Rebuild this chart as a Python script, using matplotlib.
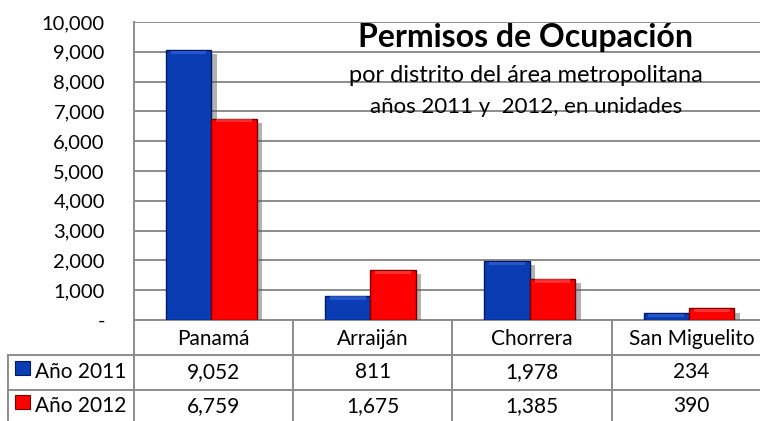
import numpy as np
import matplotlib
matplotlib.use("Agg")
import matplotlib.pyplot as plt
import matplotlib.patheffects as pe
from matplotlib.patches import Rectangle
from matplotlib.ticker import FuncFormatter
from matplotlib.transforms import blended_transform_factory

# data
districts = ["Panamá", "Arraiján", "Chorrera", "San Miguelito"]
series_names = ["Año 2011", "Año 2012"]
values_2011 = [9052, 811, 1978, 234]
values_2012 = [6759, 1675, 1385, 390]
yticks = list(range(0, 10001, 1000))

title = "Permisos de Ocupación"
subtitle1 = "por distrito del área metropolitana"
subtitle2 = "años 2011 y  2012, en unidades"

plt.rcParams['font.family'] = ['Lato', 'DejaVu Sans']

W, H = 760, 421
fig = plt.figure(figsize=(W / 100, H / 100), dpi=100, facecolor='white')

# axes placed in pixel terms; right side runs past the picture edge
px_left, px_right, px_top, px_bottom = 134, 771, 22, 320
ax = fig.add_axes([px_left / W, 1 - px_bottom / H,
                   (px_right - px_left) / W, (px_bottom - px_top) / H])

grid_c = '#8c8c8c'
blue = '#0a3cb4'
red = '#ff0000'
edge_blue = '#021a60'
edge_red = '#7a0000'

x = np.arange(len(districts)) - 0.015
bw = 0.285
shadow = [pe.SimplePatchShadow(offset=(4, -3), shadow_rgbFace='#555555', alpha=0.45),
          pe.Normal()]
b1 = ax.bar(x - bw / 2, values_2011, bw, color=blue, edgecolor=edge_blue,
            linewidth=1.0, zorder=3)
b2 = ax.bar(x + bw / 2, values_2012, bw, color=red, edgecolor=edge_red,
            linewidth=1.0, zorder=3)
for bars, hl in ((b1, '#3a6ae0'), (b2, '#ff5050')):
    for r in bars:
        r.set_path_effects(shadow)
        # bevel highlight on top of each bar
        hgt = min(110, r.get_height() * 0.5)
        ax.add_patch(Rectangle((r.get_x() + 0.03, r.get_height() - hgt - 20),
                               r.get_width() - 0.06, hgt, color=hl, alpha=0.6,
                               lw=0, zorder=4))

ax.set_xlim(-0.5, 3.5)
ax.set_ylim(0, 10000)
ax.set_yticks(yticks)
ax.yaxis.set_major_formatter(FuncFormatter(lambda v, p: '-' if v == 0 else f'{int(v):,}'))
ax.tick_params(axis='y', length=0, pad=21, labelsize=14.5)
ax.set_xticks([])
ax.grid(axis='y', color=grid_c, lw=1.4, zorder=0)
for s in ('top', 'right'):
    ax.spines[s].set_visible(False)
for s in ('left', 'bottom'):
    ax.spines[s].set_color(grid_c)
    ax.spines[s].set_linewidth(1.4)

# titles
ax.text(1.96, 9480, title, ha='center', va='center', fontsize=23,
        fontweight='bold', zorder=5)
ax.text(1.96, 8200, subtitle1, ha='center', va='center', fontsize=17, zorder=5)
ax.text(1.96, 7150, subtitle2, ha='center', va='center', fontsize=16, zorder=5)

# data table under the axis
tr = blended_transform_factory(ax.transData, ax.transAxes)
ah = px_bottom - px_top
def yf(py):
    return (px_bottom - py) / ah

cw = (px_right - px_left) / 4.0
def xd(px):
    return (px - px_left) / cw - 0.5

rows_y = [320, 355, 390, 423]
lkw = dict(color=grid_c, lw=1.4, transform=tr, clip_on=False)
# horizontal rules
ax.plot([xd(8), 3.5], [yf(355)] * 2, **lkw)
ax.plot([xd(8), 3.5], [yf(390)] * 2, **lkw)
# vertical rules
for i in range(len(districts) + 1):
    ax.plot([i - 0.5] * 2, [yf(320), yf(423)], **lkw)
ax.plot([xd(8)] * 2, [yf(355), yf(423)], **lkw)

for i, d in enumerate(districts):
    ax.text(i, yf(339), d, transform=tr, ha='center', va='center', fontsize=15)
for r, (name, vals, c, ec) in enumerate(zip(series_names, [values_2011, values_2012],
                                         [blue, red], [edge_blue, edge_red])):
    yc = yf((rows_y[r + 1] + rows_y[r + 2]) / 2)
    ax.add_patch(Rectangle((xd(15), yc - 0.01), xd(30) - xd(15), 0.05,
                           transform=tr, clip_on=False, facecolor=c,
                           edgecolor=ec, lw=0.8))
    ax.text(xd(35), yc, name, transform=tr, ha='left', va='center', fontsize=15)
    for i, v in enumerate(vals):
        ax.text(i, yc, f'{v:,}', transform=tr, ha='center', va='center',
                fontsize=15)

fig.savefig('out.png', dpi=100, facecolor='white')
